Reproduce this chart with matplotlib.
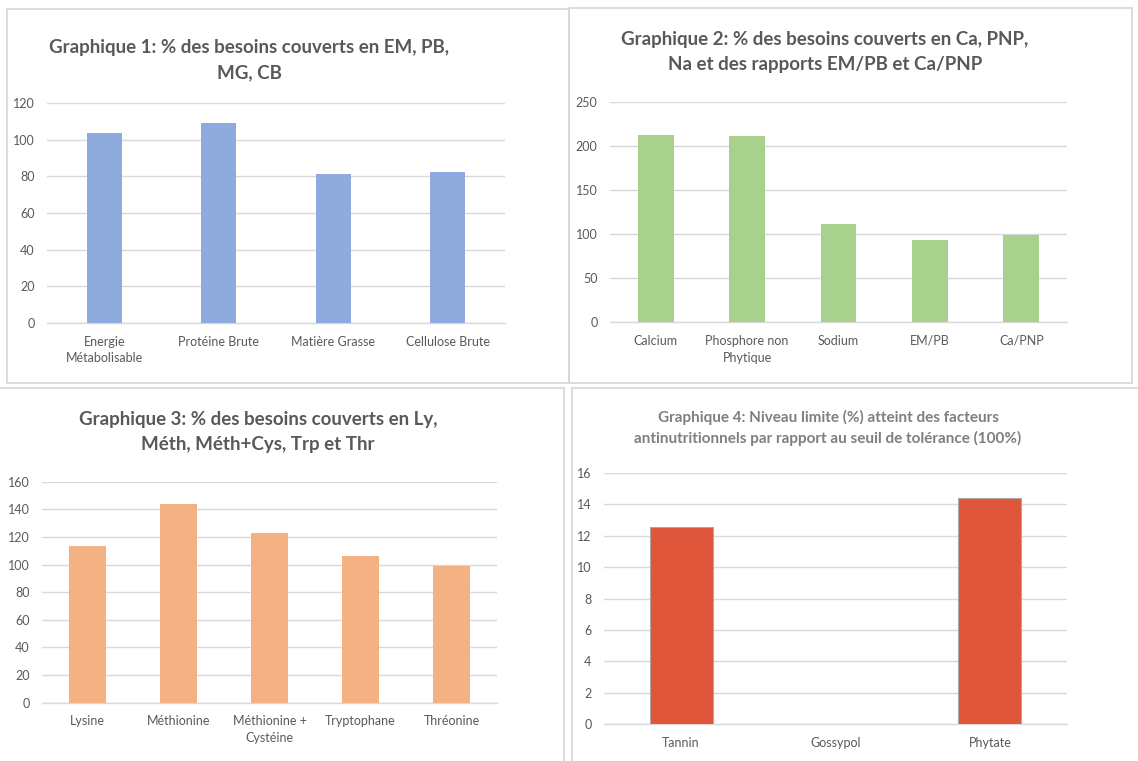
import matplotlib.pyplot as plt
from matplotlib.patches import Rectangle

plt.rcParams['font.family'] = ['Lato', 'DejaVu Sans']

W, H = 1138, 761

# Graphique 1
cat1 = ['Energie\nMétabolisable', 'Protéine Brute', 'Matière Grasse', 'Cellulose Brute']
val1 = [103.6, 109, 81.3, 82.5]

# Graphique 2
cat2 = ['Calcium', 'Phosphore non\nPhytique', 'Sodium', 'EM/PB', 'Ca/PNP']
val2 = [212.3, 211.1, 111, 93.3, 98.9]

# Graphique 3
cat3 = ['Lysine', 'Méthionine', 'Méthionine +\nCystéine', 'Tryptophane', 'Thréonine']
val3 = [113.7, 143.9, 123, 106, 99.2]

# Graphique 4
cat4 = ['Tannin', 'Gossypol', 'Phytate']
val4 = [12.57, 0, 14.41]

TXT = '#595959'
GRID = '#D9D9D9'

fig = plt.figure(figsize=(W / 100, H / 100), dpi=100)
fig.patch.set_facecolor('white')


def px_axes(left, top, right, bottom):
    return fig.add_axes([left / W, 1 - bottom / H, (right - left) / W, (bottom - top) / H])


def frame(x0, y0, x1, y1):
    fig.patches.append(Rectangle((x0 / W, 1 - y1 / H), (x1 - x0) / W, (y1 - y0) / H,
                                 transform=fig.transFigure, fill=False,
                                 edgecolor='#D6D6D6', linewidth=1.2))


def bar_chart(ax, cats, vals, color, ymax, step, width, edge=None):
    x = list(range(len(cats)))
    # no outline on empty bars
    lw = [0.8 if (edge and v > 0) else 0 for v in vals]
    ax.bar(x, vals, width=width, color=color, zorder=3,
           edgecolor=edge if edge else color, linewidth=lw)
    ax.set_xlim(-0.5, len(cats) - 0.5)
    ax.set_ylim(0, ymax)
    ax.set_yticks(range(0, ymax + 1, step))
    ax.set_xticks(x)
    ax.set_xticklabels(cats, fontsize=9, color=TXT, linespacing=1.5)
    ax.tick_params(axis='both', length=0, labelsize=9, labelcolor=TXT)
    ax.tick_params(axis='x', pad=9)
    ax.tick_params(axis='y', pad=9)
    ax.grid(axis='y', color=GRID, linewidth=1, zorder=0)
    for s in ['top', 'right', 'left']:
        ax.spines[s].set_visible(False)
    ax.spines['bottom'].set_color(GRID)
    ax.spines['bottom'].set_linewidth(1)
    ax.set_facecolor('none')


# spreadsheet-like panel frames
frame(7, 9, 569, 383)
frame(569, 8, 1132, 383)
frame(-2, 388, 564, 765)
frame(572, 388, 1140, 765)

ax1 = px_axes(47, 103, 505, 323)
bar_chart(ax1, cat1, val1, '#8FAADC', 120, 20, 0.31)
fig.text(249 / W, 1 - 60 / H, 'Graphique 1: % des besoins couverts en EM, PB,\nMG, CB',
         ha='center', va='center', fontsize=13.5, fontweight='bold', color=TXT, linespacing=1.6)

ax2 = px_axes(610, 101.7, 1067, 322.3)
bar_chart(ax2, cat2, val2, '#A9D18E', 250, 50, 0.39)
fig.text(825 / W, 1 - 52 / H, 'Graphique 2: % des besoins couverts en Ca, PNP,\nNa et des rapports EM/PB et Ca/PNP',
         ha='center', va='center', fontsize=13.5, fontweight='bold', color=TXT, linespacing=1.6)

ax3 = px_axes(42, 481.7, 497, 702.7)
bar_chart(ax3, cat3, val3, '#F4B183', 160, 20, 0.40)
fig.text(258 / W, 1 - 432 / H, 'Graphique 3: % des besoins couverts en Ly,\nMéth, Méth+Cys, Trp et Thr',
         ha='center', va='center', fontsize=13.5, fontweight='bold', color=TXT, linespacing=1.6)

ax4 = px_axes(604, 472.7, 1067, 724.3)
bar_chart(ax4, cat4, val4, '#E0563B', 16, 2, 0.41, edge='#B0A8A6')
fig.text(828 / W, 1 - 428 / H, 'Graphique 4: Niveau limite (%) atteint des facteurs\nantinutritionnels par rapport au seuil de tolérance (100%)',
         ha='center', va='center', fontsize=11, fontweight='bold', color='#7F7F7F', linespacing=1.5)

fig.savefig('out.png', dpi=100, facecolor='white')
